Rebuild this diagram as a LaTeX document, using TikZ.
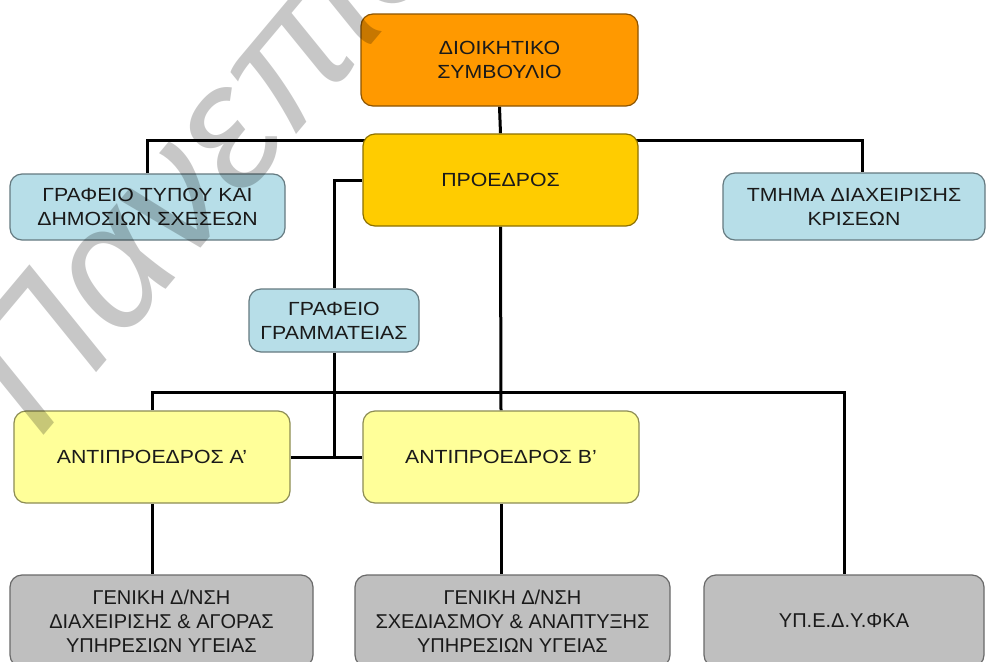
\documentclass[tikz,border=0pt]{standalone}
\usepackage{fontspec}
\setmainfont{Liberation Sans}[FakeStretch=1.12]
\newfontfamily\unitfont{Liberation Sans}[FakeStretch=1.0]
\newfontfamily\markfont{Liberation Sans}
\pgfdeclarelayer{paper}
\pgfdeclarelayer{lines}
\pgfdeclarelayer{mark}
\pgfsetlayers{paper,lines,main,mark}

\definecolor{boardorange}{HTML}{FF9900}
\definecolor{chairyellow}{HTML}{FFCC00}
\definecolor{officeblue}{HTML}{B7DEE8}
\definecolor{deputyyellow}{HTML}{FFFF99}
\definecolor{unitgray}{HTML}{BFBFBF}
\definecolor{labeltext}{HTML}{1A1A1A}

\tikzset{
  orgbox/.style={rounded corners=12pt, draw=#1!55!black, fill=#1,
    line width=1.2pt, align=center, inner sep=0pt, text=labeltext,
    font=\fontsize{19}{24}\selectfont},
  unitbox/.style={orgbox=unitgray, font=\unitfont\fontsize{20}{24}\selectfont},
  wire/.style={line width=3pt, black},
}

\begin{document}
\begin{tikzpicture}[x=1pt,y=-1pt]
\useasboundingbox (0,0) rectangle (989,662);
\begin{pgfonlayer}{paper}
  \fill[white] (0,0) rectangle (989,662);
\end{pgfonlayer}

% boxes
\node[orgbox=boardorange, minimum width=277pt, minimum height=92pt] (ds) at (499.5,60)
  {ΔΙΟΙΚΗΤΙΚΟ\\ΣΥΜΒΟΥΛΙΟ};
\node[orgbox=chairyellow, minimum width=275pt, minimum height=92pt] (pr) at (500.5,180)
  {ΠΡΟΕΔΡΟΣ};
\node[orgbox=officeblue, minimum width=275pt, minimum height=66pt] (typ) at (147.5,207)
  {ΓΡΑΦΕΙΟ ΤΥΠΟΥ ΚΑΙ\\ΔΗΜΟΣΙΩΝ ΣΧΕΣΕΩΝ};
\node[orgbox=officeblue, minimum width=262pt, minimum height=67pt] (kris) at (854,206.5)
  {ΤΜΗΜΑ ΔΙΑΧΕΙΡΙΣΗΣ\\ΚΡΙΣΕΩΝ};
\node[orgbox=officeblue, minimum width=170pt, minimum height=63pt] (gram) at (334,320.5)
  {ΓΡΑΦΕΙΟ\\ΓΡΑΜΜΑΤΕΙΑΣ};
\node[orgbox=deputyyellow, minimum width=276pt, minimum height=92pt] (antA) at (152,457)
  {ΑΝΤΙΠΡΟΕΔΡΟΣ Α’};
\node[orgbox=deputyyellow, minimum width=276pt, minimum height=92pt] (antB) at (501,457)
  {ΑΝΤΙΠΡΟΕΔΡΟΣ Β’};
\node[unitbox, minimum width=303pt, minimum height=92pt] (gen1) at (161.5,621)
  {ΓΕΝΙΚΗ Δ/ΝΣΗ\\ΔΙΑΧΕΙΡΙΣΗΣ \& ΑΓΟΡΑΣ\\ΥΠΗΡΕΣΙΩΝ ΥΓΕΙΑΣ};
\node[unitbox, minimum width=315pt, minimum height=92pt] (gen2) at (512.5,621)
  {ΓΕΝΙΚΗ Δ/ΝΣΗ\\ΣΧΕΔΙΑΣΜΟΥ \& ΑΝΑΠΤΥΞΗΣ\\ΥΠΗΡΕΣΙΩΝ ΥΓΕΙΑΣ};
\node[unitbox, minimum width=280pt, minimum height=92pt] (yped) at (844,621)
  {ΥΠ.Ε.Δ.Υ.ΦΚΑ};

% connectors
\coordinate (topbus) at (500,140);
\coordinate (midbus) at (500,392);
\begin{pgfonlayer}{lines}
  \draw[wire] (ds.south) -- (pr.north);
  \draw[wire] (typ.north) -- (typ.north |- topbus) -| ([xshift=8pt]kris.north);
  \draw[wire] (pr.west) -| (gram.north);
  \draw[wire] (gram.south) -- (gram.south |- antA.east);
  \draw[wire] (antA.east) -- (antB.west);
  \draw[wire] (pr.south) -- (antB.north);
  \draw[wire] (antA.north) -- (antA.north |- midbus) -| (yped.north);
  \draw[wire] (antA.south) -- (antA.south |- gen1.north);
  \draw[wire] (antB.south) -- (antB.south |- gen2.north);
\end{pgfonlayer}

% watermark lettering across the upper left
\begin{pgfonlayer}{mark}
  \node[anchor=base west, rotate=50, inner sep=0pt, text=black, text opacity=0.22,
        font=\markfont\itshape\fontsize{175}{175}\selectfont] (wm) at (40,440)
    {Πανεπιστήμιο};
\end{pgfonlayer}
\end{tikzpicture}
\end{document}
